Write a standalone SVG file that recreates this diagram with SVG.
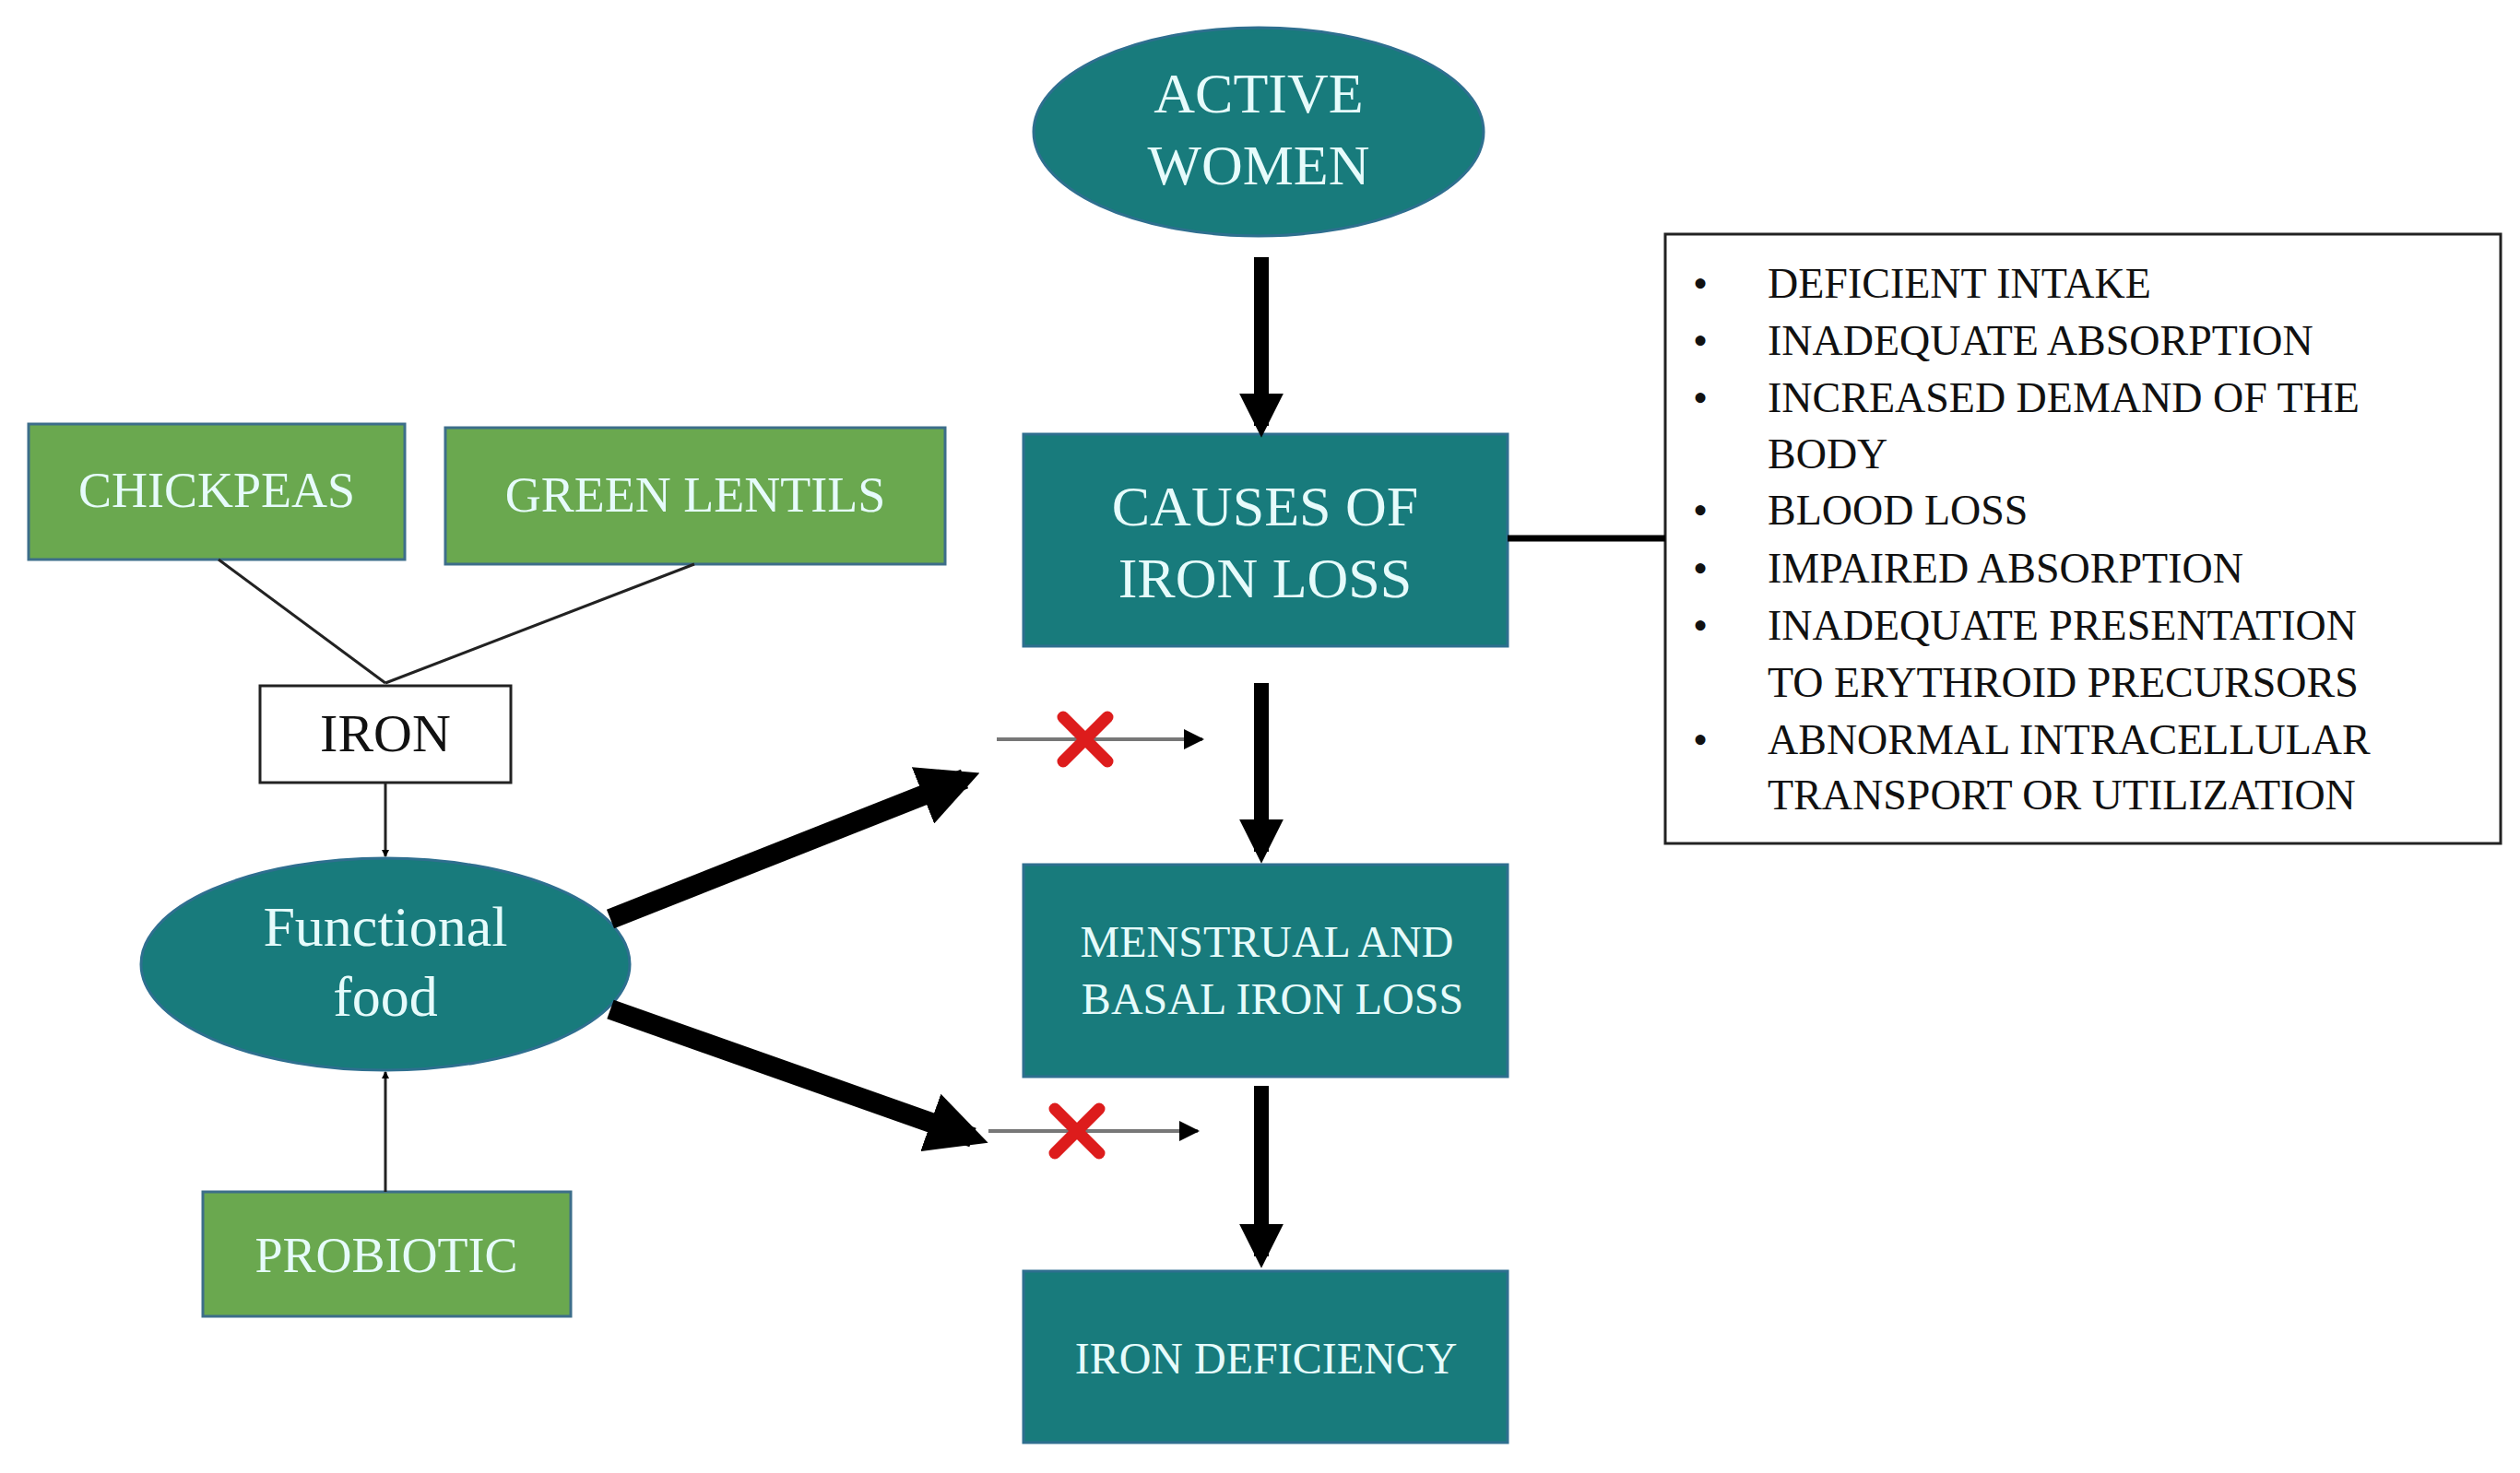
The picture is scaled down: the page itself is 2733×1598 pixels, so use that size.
<svg xmlns="http://www.w3.org/2000/svg" width="2733" height="1598" viewBox="0 0 2733 1598">
<style>
.teal{fill:#187b7c;stroke:#2e6f8f;stroke-width:3}
.green{fill:#6aa84f;stroke:#3d6e8a;stroke-width:3}
.t{font-family:"Liberation Serif",serif;fill:#e6fbfb;text-anchor:middle}
.b{font-family:"Liberation Serif",serif;fill:#111;font-size:46px}
.thin{stroke:#222;stroke-width:3;fill:none}
.gray{stroke:#777;stroke-width:4;fill:none}
.x{stroke:#dd1c1c;stroke-width:13;stroke-linecap:round}
</style>
<defs>
<marker id="big" markerWidth="3" markerHeight="3" refX="2.2" refY="1.5" orient="auto"><path d="M0,0L3,1.5L0,3z" fill="#000"/></marker>
<marker id="sm" markerWidth="8" markerHeight="8" refX="7" refY="4" orient="auto" markerUnits="userSpaceOnUse"><path d="M0,0L8,4L0,8z" fill="#000"/></marker>
<marker id="gm" markerWidth="22" markerHeight="22" refX="20" refY="11" orient="auto" markerUnits="userSpaceOnUse"><path d="M0,0L22,11L0,22z" fill="#000"/></marker>
</defs>
<rect width="2733" height="1598" fill="#fff"/>
<g id="active"><ellipse cx="1365" cy="143" rx="244" ry="113" class="teal"/>
<text class="t" x="1365" y="122" font-size="62">ACTIVE</text><text class="t" x="1365" y="200" font-size="62">WOMEN</text></g>
<g id="causes"><rect x="1110" y="471" width="525" height="230" class="teal"/>
<text class="t" x="1372" y="570" font-size="62">CAUSES OF</text><text class="t" x="1372" y="648" font-size="62">IRON LOSS</text></g>
<g id="list"><rect x="1806" y="254" width="906" height="661" fill="#fff" stroke="#222" stroke-width="3"/>
<g class="b">
<text x="1836" y="323">•</text><text x="1917" y="323">DEFICIENT INTAKE</text>
<text x="1836" y="385">•</text><text x="1917" y="385">INADEQUATE  ABSORPTION</text>
<text x="1836" y="447">•</text><text x="1917" y="447">INCREASED DEMAND OF THE</text>
<text x="1917" y="508">BODY</text>
<text x="1836" y="569">•</text><text x="1917" y="569">BLOOD LOSS</text>
<text x="1836" y="632">•</text><text x="1917" y="632">IMPAIRED ABSORPTION</text>
<text x="1836" y="694">•</text><text x="1917" y="694">INADEQUATE  PRESENTATION</text>
<text x="1917" y="756">TO ERYTHROID PRECURSORS</text>
<text x="1836" y="818">•</text><text x="1917" y="818">ABNORMAL  INTRACELLULAR</text>
<text x="1917" y="878">TRANSPORT OR UTILIZATION</text>
</g></g>
<g id="menstrual"><rect x="1110" y="938" width="525" height="230" class="teal"/>
<text class="t" x="1374" y="1038" font-size="48">MENSTRUAL AND</text><text class="t" x="1380" y="1100" font-size="48">BASAL IRON LOSS</text></g>
<g id="deficiency"><rect x="1110" y="1379" width="525" height="186" class="teal"/>
<text class="t" x="1373" y="1490" font-size="48">IRON DEFICIENCY</text></g>
<g id="chickpeas"><rect x="31" y="460" width="408" height="147" class="green"/>
<text class="t" x="235" y="550" font-size="54">CHICKPEAS</text></g>
<g id="lentils"><rect x="483" y="464" width="542" height="148" class="green"/>
<text class="t" x="754" y="555" font-size="54">GREEN LENTILS</text></g>
<g id="iron"><rect x="282" y="744" width="272" height="105" fill="#fff" stroke="#222" stroke-width="3"/>
<text x="418" y="815" font-size="58" text-anchor="middle" font-family="Liberation Serif,serif" fill="#111">IRON</text></g>
<g id="functional"><ellipse cx="418" cy="1046" rx="265" ry="115" class="teal"/>
<text class="t" x="418" y="1026" font-size="62">Functional</text><text class="t" x="418" y="1102" font-size="62">food</text></g>
<g id="probiotic"><rect x="220" y="1293" width="399" height="135" class="green"/>
<text class="t" x="419" y="1380" font-size="54">PROBIOTIC</text></g>
<g id="connectors">
<line x1="1368" y1="279" x2="1368" y2="462" stroke="#000" stroke-width="16" marker-end="url(#big)"/>
<line x1="1635" y1="584" x2="1806" y2="584" stroke="#000" stroke-width="7"/>
<line x1="1368" y1="741" x2="1368" y2="924" stroke="#000" stroke-width="16" marker-end="url(#big)"/>
<line x1="1368" y1="1178" x2="1368" y2="1363" stroke="#000" stroke-width="16" marker-end="url(#big)"/>
<line x1="237" y1="607" x2="418" y2="741" class="thin"/>
<line x1="753" y1="612" x2="418" y2="741" class="thin"/>
<line x1="418" y1="849" x2="418" y2="929" class="thin" marker-end="url(#sm)"/>
<line x1="418" y1="1293" x2="418" y2="1163" class="thin" marker-end="url(#sm)"/>
<line x1="662" y1="997" x2="1046" y2="845" stroke="#000" stroke-width="22" marker-end="url(#big)"/>
<line x1="662" y1="1095" x2="1055" y2="1234" stroke="#000" stroke-width="22" marker-end="url(#big)"/>
<line x1="1081" y1="802" x2="1304" y2="802" class="gray" marker-end="url(#gm)"/>
<line x1="1072" y1="1227" x2="1299" y2="1227" class="gray" marker-end="url(#gm)"/>
<path d="M1153,778L1201,826M1201,778L1153,826" class="x"/>
<path d="M1144,1203L1192,1251M1192,1203L1144,1251" class="x"/>
</g>
</svg>
